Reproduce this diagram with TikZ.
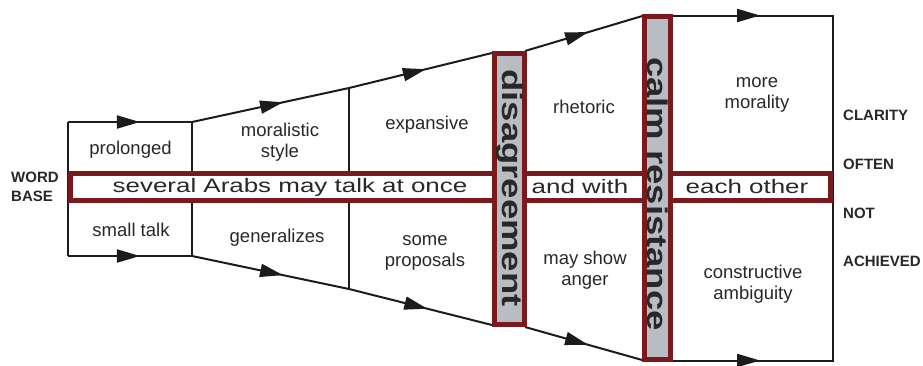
\documentclass[tikz,border=0pt]{standalone}
\usepackage{fontspec}
\setmainfont{Liberation Sans}
\newfontfamily\bandfont[FakeStretch=1.33]{Liberation Sans}
\newfontfamily\barfont[FakeStretch=1.28]{Liberation Sans}
\usetikzlibrary{arrows.meta,decorations.markings}
\definecolor{bandred}{RGB}{122,26,28}
\definecolor{bargray}{RGB}{184,188,195}
\definecolor{ink}{RGB}{28,28,28}
\definecolor{textink}{RGB}{40,40,40}
\begin{document}
\begin{tikzpicture}[x=1pt,y=-1pt,
  edge/.style={draw=ink, line width=2pt},
  arrowat/.style={postaction={decorate}, decoration={markings,
      mark=at position #1 with {\arrow{Triangle[length=23pt,width=13pt]}}}},
  band/.style={draw=bandred, line width=5pt, fill=white},
  bar/.style={draw=bandred, line width=5pt, fill=bargray},
  cell/.style={font=\fontsize{18.5}{21}\selectfont, text=textink, align=center, inner sep=0pt},
  bandtext/.style={font=\bandfont\fontsize{19.5}{22}\selectfont, text=textink, inner sep=0pt},
  bartext/.style={font=\barfont\bfseries\fontsize{28.5}{30}\selectfont, text=textink, inner sep=0pt, rotate=-90},
  side/.style={font=\bfseries\fontsize{15}{19}\selectfont, text=textink, inner sep=0pt, anchor=west, align=left}]

\useasboundingbox[fill=white] (0,0) rectangle (923,365);

% corners of the funnel outline
\coordinate (LT) at (68,122);
\coordinate (LB) at (68,256);
\coordinate (AT) at (192,122);
\coordinate (AB) at (192,256);
\coordinate (BT) at (349,88);
\coordinate (BB) at (349,289);
\coordinate (CT) at (494,52.5);
\coordinate (CB) at (494,325.5);
\coordinate (DT) at (525,51);
\coordinate (DB) at (525,327);
\coordinate (ET) at (644,15.5);
\coordinate (EB) at (644,360.5);
\coordinate (GT) at (671,15.5);
\coordinate (GB) at (671,360.5);
\coordinate (FT) at (833,15.5);
\coordinate (FB) at (833,360.5);

% funnel outline with flow arrows
\draw[edge] (LT) -- (LB);
\draw[edge, arrowat=0.58] (LT) -- (AT);
\draw[edge, arrowat=0.58] (LB) -- (AB);
\draw[edge] (AT) -- (AB);
\draw[edge, arrowat=0.58] (AT) -- (BT);
\draw[edge, arrowat=0.58] (AB) -- (BB);
\draw[edge] (BT) -- (BB);
\draw[edge, arrowat=0.53] (BT) -- (CT);
\draw[edge, arrowat=0.54] (BB) -- (CB);
\draw[edge, arrowat=0.53] (DT) -- (ET);
\draw[edge, arrowat=0.53] (DB) -- (EB);
\draw[edge, arrowat=0.55] (GT) -- (FT);
\draw[edge, arrowat=0.55] (GB) -- (FB);
\draw[edge, line cap=rect] (FT) -- (FB);

% horizontal band
\draw[band] (70.5,173.5) rectangle (494.5,200.5);
\draw[band] (524.5,173.5) rectangle (644.5,200.5);
\draw[band] (670.5,173.5) rectangle (830.5,200.5);

% vertical bars
\draw[bar] (494.5,53.5) rectangle (524.5,324.5);
\draw[bar] (644.5,16.5) rectangle (670.5,359.5);

% bar labels
\node[bartext] (disagree) at (509.5,188) {disagreement};
\node[bartext] (calm) at (657.5,194) {calm resistance};

% band labels
\node[bandtext] (several) at (290,187) {several Arabs may talk at once};
\node[bandtext] (andwith) at (580,187) {and with};
\node[bandtext] (eachother) at (747,187) {each other};

% cell labels
\node[cell] (prolonged) at (130.5,149.5) {prolonged};
\node[cell] (smalltalk) at (131,229.5) {small talk};
\node[cell] (moralistic) at (280,142) {moralistic\\style};
\node[cell] (generalizes) at (277,238) {generalizes};
\node[cell] (expansive) at (427,125) {expansive};
\node[cell] (proposals) at (425,253) {some\\proposals};
\node[cell] (rhetoric) at (584,107) {rhetoric};
\node[cell] (anger) at (585,270) {may show\\anger};
\node[cell] (morality) at (757,95) {more\\morality};
\node[cell] (ambiguity) at (753,284) {constructive\\ambiguity};

% side labels
\node[side] (wordbase) at (11,187) {WORD\\BASE};
\node[side] (clarity) at (843,115.5) {CLARITY};
\node[side] (often) at (843,164) {OFTEN};
\node[side] (not) at (843,213) {NOT};
\node[side] (achieved) at (843,261) {ACHIEVED};
\end{tikzpicture}
\end{document}
